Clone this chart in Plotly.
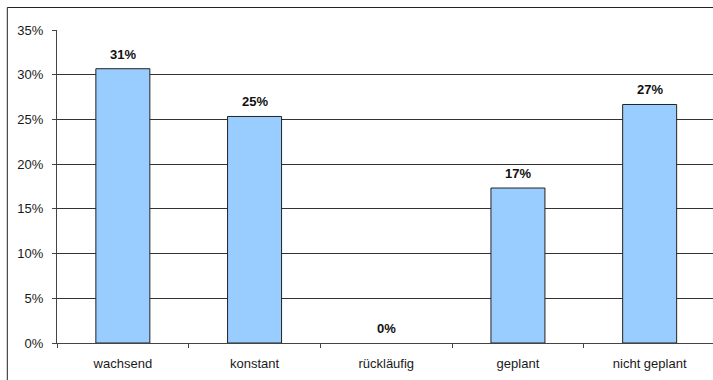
import plotly.graph_objects as go

# Survey shares per category (percent)
categories = ["wachsend", "konstant", "rückläufig", "geplant", "nicht geplant"]
shares = [30.67, 25.33, 0.0, 17.33, 26.67]
y_ticks = [0, 5, 10, 15, 20, 25, 30, 35]
y_tick_labels = [f"{t}%" for t in y_ticks]

W, H = 713, 380
left, top, bottom = 57, 30, 37
plot_w = W - left
plot_h = H - top - bottom
cat_px = 131.7
x_hi = -0.5 + plot_w / cat_px

font_family = "Liberation Sans, Arial, sans-serif"
font_size = 13

fig = go.Figure()
fig.add_trace(go.Bar(
    x=categories,
    y=shares,
    width=0.41,
    marker=dict(color="#99CCFF",
                line=dict(color="#222222", width=[1 if v > 0 else 0 for v in shares])),
    hoverinfo="skip",
))

# value labels above the bars
for c, v in zip(categories, shares):
    fig.add_annotation(
        x=c, y=v, text=f"<b>{round(v)}%</b>", showarrow=False,
        yanchor="bottom", yshift=5,
        font=dict(family=font_family, size=font_size, color="#111111"),
    )

# outer frame of the chart (left and top edges inside the page)
frame_x = (7.3 - left) / plot_w
frame_y = 1 + (top - 7.5) / plot_h
fig.add_shape(type="line", xref="paper", yref="paper",
              x0=frame_x, x1=frame_x, y0=-(bottom + 5) / plot_h, y1=frame_y,
              line=dict(color="#222222", width=1))
fig.add_shape(type="line", xref="paper", yref="paper",
              x0=frame_x, x1=1.05, y0=frame_y, y1=frame_y,
              line=dict(color="#222222", width=1))

fig.update_layout(
    width=W, height=H,
    margin=dict(l=left, r=0, t=top, b=bottom),
    paper_bgcolor="white", plot_bgcolor="white",
    showlegend=False,
    font=dict(family=font_family, size=font_size, color="#1a1a1a"),
)
fig.update_xaxes(
    range=[-0.5, x_hi],
    tickson="boundaries", ticks="outside", ticklen=4, tickcolor="#444444",
    showline=True, linecolor="#444444", linewidth=1,
    showgrid=False, zeroline=False, fixedrange=True,
    ticklabelstandoff=8,
)
fig.update_yaxes(
    range=[0, 35],
    tickvals=y_ticks, ticktext=y_tick_labels,
    ticks="outside", ticklen=4, tickcolor="#444444",
    showline=True, linecolor="#444444", linewidth=1,
    showgrid=True, gridcolor="#333333", gridwidth=1,
    zeroline=False, fixedrange=True,
    ticklabelstandoff=6,
)

fig.write_html("out.html", config={"displayModeBar": False})
